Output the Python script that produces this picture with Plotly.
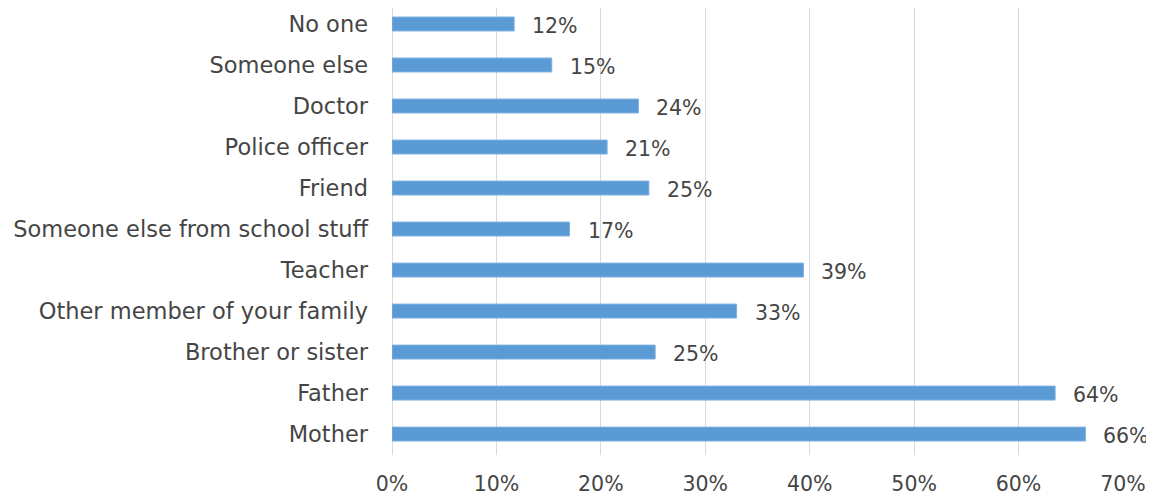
import plotly.graph_objects as go

categories = ["Mother", "Father", "Brother or sister", "Other member of your family",
              "Teacher", "Someone else from school stuff", "Friend", "Police officer",
              "Doctor", "Someone else", "No one"]
values = [66.4, 63.5, 25.2, 33.0, 39.4, 17.0, 24.6, 20.6, 23.6, 15.3, 11.7]
tick_vals = [0, 10, 20, 30, 40, 50, 60, 70]
tick_text = ["0%", "10%", "20%", "30%", "40%", "50%", "60%", "70%"]

FONT = "DejaVu Sans"
TXT = "#454545"
FS_CAT = 22.5
FS_NUM = 20.5

fig = go.Figure()
fig.add_trace(go.Bar(
    y=categories, x=values, orientation="h", width=0.34,
    marker=dict(color="#5b9bd5", line=dict(color="#7fb1e0", width=1)),
    hoverinfo="skip",
))
for c, v in zip(categories, values):
    fig.add_annotation(x=v, y=c, text=f"{v:.0f}%", showarrow=False,
                       xanchor="left", yanchor="middle", xshift=16, yshift=-2,
                       font=dict(family=FONT, size=FS_NUM, color=TXT))

# page has an 8px body margin, so the figure is sized to fit the window
fig.update_layout(
    width=1146, height=488,
    margin=dict(l=384, r=31, t=0, b=39),
    paper_bgcolor="white", plot_bgcolor="white",
    showlegend=False,
    font=dict(family=FONT, size=FS_CAT, color=TXT),
)
fig.update_xaxes(range=[0, 70], tickvals=tick_vals, ticktext=tick_text,
                 showgrid=True, gridcolor="#d9d9d9", gridwidth=1,
                 zeroline=True, zerolinecolor="#d9d9d9", zerolinewidth=1,
                 showline=False, ticks="",
                 ticklabelstandoff=14,
                 tickfont=dict(family=FONT, size=FS_NUM, color=TXT))
fig.update_yaxes(categoryorder="array", categoryarray=categories,
                 range=[-0.51, 10.39], showgrid=False, zeroline=False,
                 showline=False, ticks="", ticklabelstandoff=23,
                 tickfont=dict(family=FONT, size=FS_CAT, color=TXT))

fig.write_html("out.html")
